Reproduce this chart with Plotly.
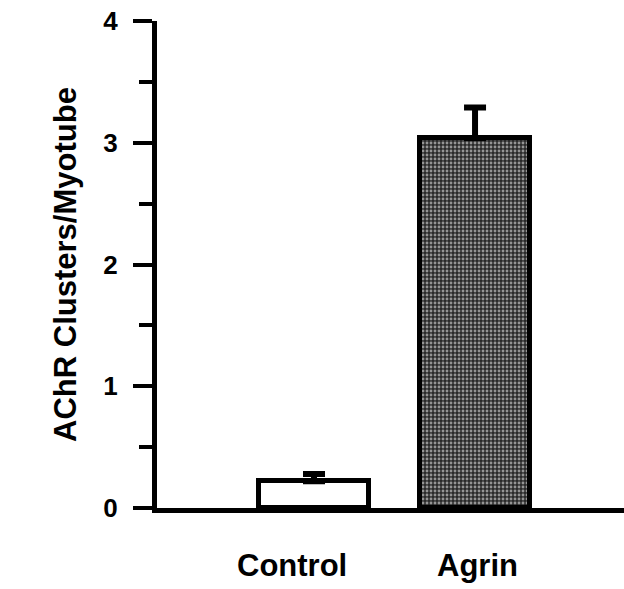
import plotly.graph_objects as go

categories = ["Control", "Agrin"]
means = [0.22, 3.04]
sem = [0.06, 0.25]
y_ticks = [0, 1, 2, 3, 4]
y_title = "AChR Clusters/Myotube"

FONT = "Liberation Sans, Arial, sans-serif"

fig = go.Figure()
fig.add_trace(go.Bar(
    x=categories,
    y=means,
    width=0.68,
    marker=dict(
        color=["white", "#2a2a2a"],
        line=dict(color="black", width=5),
        pattern=dict(shape=["", "."], fgcolor="white", bgcolor="#1a1a1a",
                     size=4, solidity=0.4, fillmode="overlay"),
    ),
    error_y=dict(type="data", symmetric=False, array=sem,
                 arrayminus=[0, 0], color="black", thickness=6, width=11),
))

for c in categories:
    fig.add_annotation(x=c, y=0, xref="x", yref="y", text="<b>%s</b>" % c,
                       showarrow=False, yshift=-57,
                       xshift=-22 if c == "Control" else 2,
                       font=dict(family=FONT, size=31, color="black"))

fig.update_layout(
    width=624, height=589,
    margin=dict(l=157, r=0, t=21, b=81),
    paper_bgcolor="white", plot_bgcolor="white",
    showlegend=False,
    bargap=0,
)
fig.update_xaxes(
    range=[-0.975, 1.925], showticklabels=False, ticks="",
    showline=True, linecolor="black", linewidth=5, showgrid=False,
    zeroline=False,
)
fig.update_yaxes(
    range=[0, 4], tickvals=y_ticks, ticktext=["<b>%d</b>" % v for v in y_ticks],
    ticks="outside", ticklen=19, tickwidth=4, tickcolor="black",
    minor=dict(dtick=0.5, ticks="outside", ticklen=13, tickwidth=4, tickcolor="black", showgrid=False),
    showline=True, linecolor="black", linewidth=5, showgrid=False, zeroline=False,
    tickfont=dict(family=FONT, size=26, color="black"),
    ticklabelstandoff=10,
    title=dict(text="<b>%s</b>" % y_title, standoff=19,
               font=dict(family=FONT, size=31, color="black")),
)

fig.write_html("out.html")
